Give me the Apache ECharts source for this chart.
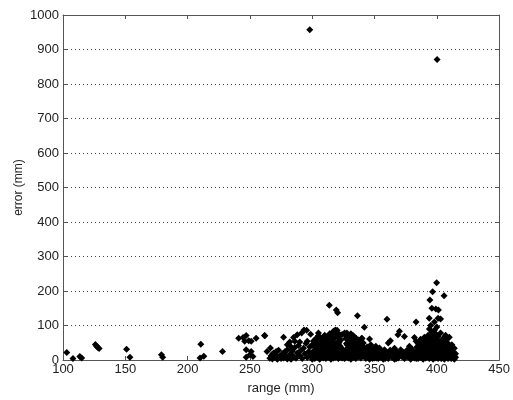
<!DOCTYPE html>
<html>
<head>
<meta charset="utf-8">
<script src="https://cdn.jsdelivr.net/npm/echarts@6/dist/echarts.min.js"></script>
<style>html,body{margin:0;padding:0;background:#fff}#c{width:513px;height:400px}</style>
</head>
<body>
<div id="c"></div>
<script>
// Axis ranges / ticks
const xTicks = [100, 150, 200, 250, 300, 350, 400, 450];
const yTicks = [0, 100, 200, 300, 400, 500, 600, 700, 800, 900, 1000];

// Isolated low-range points [range (mm), error (mm)]
const sparsePoints = [
  [103,22],[108,4],[113.5,10],[115,6],[126,45],[127,40],[128,36],[129,33],
  [151,31],[153.7,8],[179,15],[180,8],[210.6,46],[210,6],[213,11],[228,25],
  [241,63],[244.5,65],[247,71],[249,56],[245.8,54],[251,54],[255,63],[262,70],
  [247,30],[251,25],[250,15],[252.4,10],[247,8],[266.4,35],[263.7,25],[268,17],[271,25],
  [261.7,71],[277,66],[285,65],[288,73],[291.5,78],[298.7,75],[282,52],[286,54],[290,52],[296,54],
  [280,44],[282.7,39]
];

// Points above the main band
const highPoints = [
  [313.7,159],[319.3,145],[320.4,137],[336.3,128],[341.8,95],[293.4,87],[295.5,86],
  [318.5,87],[317,83],[326.4,73],[327.8,78],[305,78],[308,63],[339.7,63],
  [360,118],[383.3,110],[370,83],[368.8,73],[374,68],[382,65],[383.3,54],[362.7,56],[361,49],[346,61],
  [393.9,121],[394.4,174],[396,150],[396.6,198],[399.2,148],[399.8,224],[401.3,145],
  [401,121],[403,119],[405.8,186],[398,110]
];

// Dense band 265-415 mm
const densePoints = [
  [266,5],[267,12],[268,3],[269,20],[270,8],[271,15],[272,2],[273,28],[274,10],[275,4],[276,18],[277,6],[278,24],[279,12],[280,3],[280,30],
  [281,8],[282,16],[283,2],[284,26],[285,10],[286,36],[287,5],[288,20],[289,42],[290,12],[291,28],[292,4],[293,34],[294,18],[295,48],[296,7],[297,24],[298,38],[299,14],[300,2],[300,44],
  [301,10],[301,26],[301,55],[302,4],[302,18],[302,38],[303,30],[303,62],[304,8],[304,22],[304,46],[305,14],[305,34],[305,70],[306,2],[306,26],[306,52],[307,10],[307,40],[307,64],[308,18],[308,32],[308,58],[309,6],[309,28],[309,48],[310,14],[310,36],[310,72],[311,4],[311,22],[311,56],[312,12],[312,44],[312,66],[313,8],[313,30],[313,52],[314,18],[314,40],[314,76],[315,2],[315,26],[315,60],[316,14],[316,34],[316,70],[317,6],[317,46],[317,82],[318,20],[318,38],[318,64],[319,10],[319,28],[319,78],[320,16],[320,50],[320,86],[321,4],[321,32],[321,68],[322,12],[322,24],[322,74],[323,8],[323,20],[323,58],
  [324,6],[324,18],[324,74],[325,12],[325,22],[326,4],[326,16],[326,78],
  [327,10],[327,30],[327,62],[328,20],[328,44],[328,72],[329,6],[329,36],[329,56],[330,14],[330,28],[330,66],[331,2],[331,48],[331,76],[332,18],[332,38],[332,60],[333,8],[333,26],[333,70],[334,12],[334,42],[334,54],[335,4],[335,32],[335,64],[336,20],[336,48],[337,10],[337,36],[337,58],[338,16],[338,28],[338,50],
  [339,6],[339,40],[340,22],[340,62],[341,12],[341,49],[342,30],[343,4],[343,18],[344,38],[345,10],[345,26],[346,2],[347,20],[347,44],[348,14],[349,32],[350,6],[350,24],[351,40],[352,12],
  [353,28],[353,4],[354,35],[354,16],[355,8],[356,22],[357,2],[357,14],[358,30],[359,10],[360,20],[361,4],[362,14],[363,26],[364,8],[365,18],[366,2],[366,34],[367,12],[368,24],[369,6],[370,16],[371,30],[372,10],[373,22],[374,4],[375,14],[376,28],[377,8],[378,40],[378,18],[379,2],[380,12],[380,32],[381,24],[382,6],[383,16],[384,38],
  [385,4],[385,22],[385,48],[386,12],[386,34],[387,8],[387,60],[388,18],[388,42],[389,2],[389,28],[389,52],[390,14],[390,36],[390,66],[391,6],[391,24],[391,46],[392,10],[392,32],[392,58],[393,18],[393,40],[393,72],[394,4],[394,26],[394,50],[394,90],[395,12],[395,36],[395,62],[395,100],[396,8],[396,20],[396,44],[396,80],[397,2],[397,30],[397,56],[397,70],[398,16],[398,38],[398,64],[398,86],[399,6],[399,24],[399,48],[399,76],[400,12],[400,34],[400,58],[400,96],[401,4],[401,20],[401,42],[401,68],[402,10],[402,28],[402,52],[403,16],[403,36],[403,78],[404,6],[404,24],[404,46],[405,12],[405,32],[405,62],[406,2],[406,20],[406,54],[407,8],[407,40],[407,72],[408,14],[408,30],[408,60],
  [409,4],[409,22],[409,48],[410,10],[410,36],[410,66],[411,16],[411,28],[412,6],[412,44],[413,12],[413,24],[414,2],[414,34],[415,8],[415,18]
];

// Extra fill of the densest parts of the band
const denseFill = [
  [300.5,20],[301.5,40],[302.5,50],[303.5,12],[304.5,58],[305.5,42],[306.5,16],[307.5,28],[308.5,44],[309.5,62],[310.5,24],[311.5,40],[312.5,28],[313.5,68],[314.5,6],[315.5,44],[316.5,54],[317.5,30],[318.5,8],[319.5,44],[320.5,30],[320.5,66],[321.5,50],[322.5,40],[323.5,34],
  [327.5,48],[328.5,32],[329.5,18],[330.5,42],[331.5,26],[332.5,50],[333.5,40],[334.5,24],[335.5,48],[336.5,34],[337.5,22],[338.5,40],
  [339.5,28],[341.5,36],[342.5,10],[344.5,20],[346.5,32],[348.5,4],[349.5,18],[351.5,6],[352.5,22],
  [355.5,26],[358.5,4],[360.5,12],[362.5,28],[364.5,22],[367.5,4],[369.5,20],[371.5,14],[373.5,8],[375.5,24],[377.5,16],[379.5,26],[381.5,10],[383.5,4],
  [384.5,28],[386.5,54],[387.5,24],[388.5,6],[389.5,40],[390.5,52],[391.5,34],[392.5,20],[393.5,56],[394.5,12],[395.5,50],[396.5,28],[397.5,44],[398.5,8],[399.5,36],[399.5,62],[400.5,22],[400.5,46],[401.5,30],[402.5,40],[403.5,4],[403.5,56],[404.5,34],[405.5,20],[406.5,38],[407.5,26],[408.5,46],[410.5,24],[411.5,4],[412.5,32]
];

// Two large outliers
const outlierPoints = [[298,957],[400.2,871]];

const allPoints = sparsePoints.concat(densePoints, denseFill, highPoints, outlierPoints);

const axisColor = '#555';
const font = 'Liberation Sans, Arial, sans-serif';
const xMin = xTicks[0], xMax = xTicks[xTicks.length-1], xStep = xTicks[1]-xTicks[0];
const yMin = yTicks[0], yMax = yTicks[yTicks.length-1], yStep = yTicks[1]-yTicks[0];
const plain = v => String(v);

const chart = echarts.init(document.getElementById('c'), null, {renderer:'canvas'});
chart.setOption({
  animation: false,
  backgroundColor: '#fff',
  grid: {left: 63, right: 9, top: 15, bottom: 38},
  xAxis: [{
    type: 'value', min: xMin, max: xMax, interval: xStep, position: 'bottom',
    name: 'range (mm)', nameLocation: 'middle', nameGap: 22,
    nameTextStyle: {color: '#222', fontSize: 13, fontFamily: font},
    axisLine: {show: true, onZero: false, lineStyle: {color: axisColor, width: 1}},
    axisTick: {show: true, inside: true, length: 4, lineStyle: {color: axisColor}},
    axisLabel: {color: '#222', fontSize: 13, fontFamily: font, margin: 3, formatter: plain},
    splitLine: {show: false}
  }, {
    type: 'value', min: xMin, max: xMax, interval: xStep, position: 'top',
    axisLine: {show: true, onZero: false, lineStyle: {color: axisColor, width: 1}},
    axisTick: {show: true, inside: true, length: 4, lineStyle: {color: axisColor}},
    axisLabel: {show: false}, splitLine: {show: false}
  }],
  yAxis: [{
    type: 'value', min: yMin, max: yMax, interval: yStep, position: 'left',
    name: 'error (mm)', nameLocation: 'middle', nameGap: 38, nameMoveOverlap: false,
    nameTextStyle: {color: '#222', fontSize: 12, fontFamily: font},
    axisLine: {show: true, onZero: false, lineStyle: {color: axisColor, width: 1}},
    axisTick: {show: true, inside: true, length: 4, lineStyle: {color: axisColor}},
    axisLabel: {color: '#222', fontSize: 13, fontFamily: font, margin: 4, formatter: plain},
    splitLine: {show: true, lineStyle: {color: '#444', width: 1, type: [1, 3]}}
  }, {
    type: 'value', min: yMin, max: yMax, interval: yStep, position: 'right',
    axisLine: {show: true, onZero: false, lineStyle: {color: axisColor, width: 1}},
    axisTick: {show: true, inside: true, length: 4, lineStyle: {color: axisColor}},
    axisLabel: {show: false}, splitLine: {show: false}
  }],
  series: [{
    type: 'scatter', xAxisIndex: 0, yAxisIndex: 0,
    data: allPoints,
    symbol: 'diamond', symbolSize: 7,
    itemStyle: {color: '#000', opacity: 1}
  }]
});
</script>
</body>
</html>
